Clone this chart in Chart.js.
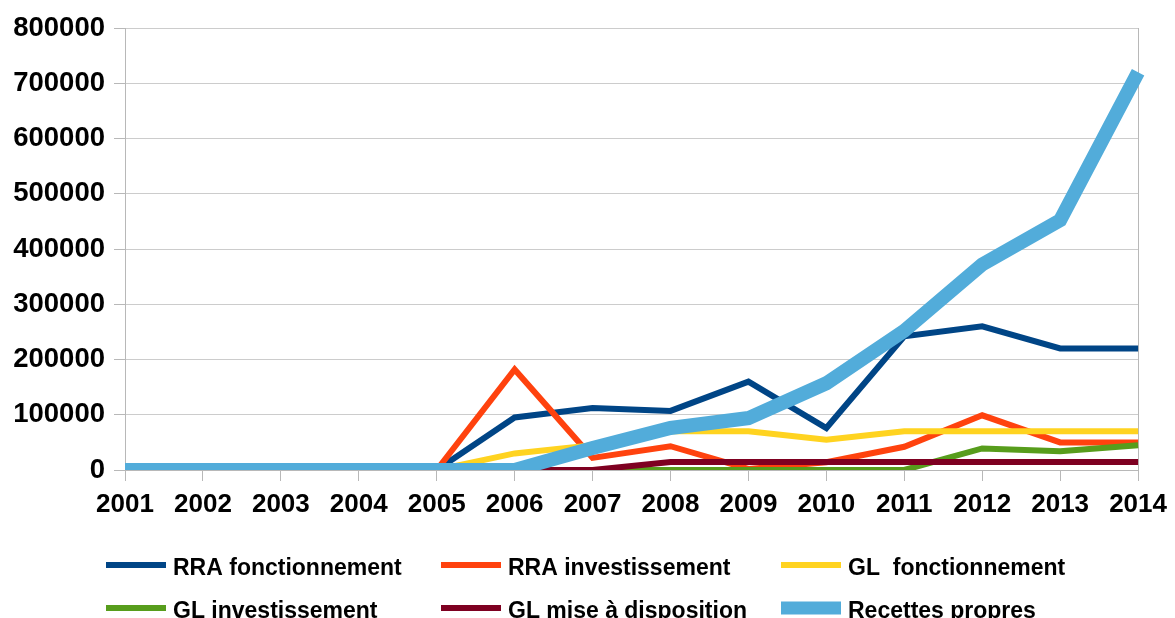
<!DOCTYPE html>
<html>
<head>
<meta charset="utf-8">
<script src="https://cdn.jsdelivr.net/npm/chart.js@4/dist/chart.umd.min.js"></script>
<style>
html,body{margin:0;padding:0;background:#fff;}
canvas{display:block;}
</style>
</head>
<body>
<canvas id="c" width="1175" height="618"></canvas>
<script>
const years = ['2001','2002','2003','2004','2005','2006','2007','2008','2009','2010','2011','2012','2013','2014'];
const seriesNames = ['RRA fonctionnement','RRA investissement','GL  fonctionnement','GL investissement','GL mise à disposition','Recettes propres'];
const rraFonctionnement = [0,0,0,0,0,95000,112000,107000,160000,76000,242000,260000,220000,220000];
const rraInvestissement = [0,0,0,0,0,182000,22000,43000,2000,14000,42000,99000,50000,50000];
const glFonctionnement = [0,0,0,0,0,30000,45000,70000,70000,55000,70000,70000,70000,70000];
const glInvestissement = [0,0,0,0,0,0,0,0,0,0,0,39000,34000,45000];
const glMiseADisposition = [0,0,0,0,0,0,0,14500,14500,14500,14500,14500,14500,14500];
const recettesPropres = [0,0,0,0,0,0,40000,76000,94000,157000,252000,372000,452000,720000];
const yTicks = [0,100000,200000,300000,400000,500000,600000,700000,800000];

const colors = ['#004586','#ff420e','#ffd320','#579d1c','#7e0021','#52acda'];
const widths = [6,6,6,6,6,14];
const values = [rraFonctionnement,rraInvestissement,glFonctionnement,glInvestissement,glMiseADisposition,recettesPropres];

const datasets = values.map((v,i)=>({
  label: seriesNames[i],
  data: v,
  borderColor: colors[i],
  backgroundColor: colors[i],
  borderWidth: widths[i],
  pointRadius: 0,
  pointHoverRadius: 0,
  tension: 0,
  fill: false,
  order: values.length - 1 - i
}));

const FONT = '"Liberation Sans", Arial, sans-serif';

const legendPlugin = {
  id: 'customLegend',
  afterDraw(chart){
    const ctx = chart.ctx;
    const colX = [106, 441, 781];
    const rowY = [565, 608];
    ctx.save();
    ctx.font = 'bold 23px ' + FONT;
    ctx.fillStyle = '#000';
    ctx.textBaseline = 'alphabetic';
    ctx.textAlign = 'left';
    chart.data.datasets.forEach((ds,i)=>{
      const col = i % 3, row = Math.floor(i/3);
      const x = colX[col], y = rowY[row];
      const h = ds.borderWidth > 8 ? 13 : 6;
      ctx.fillStyle = ds.borderColor;
      ctx.fillRect(x, y - h/2, 60, h);
      ctx.fillStyle = '#000';
      ctx.fillText(ds.label, x + 67, y + 10);
    });
    ctx.restore();
  }
};

new Chart(document.getElementById('c'), {
  type: 'line',
  data: { labels: years, datasets },
  options: {
    responsive: false,
    animation: false,
    events: [],
    layout: { padding: { top: 28, right: 32, left: 0, bottom: 0 }, autoPadding: false },
    plugins: { legend: { display: false }, tooltip: { enabled: false } },
    scales: {
      x: {
        type: 'category',
        offset: false,
        grid: {
          color: (c) => c.index === years.length - 1 ? '#b8b8b8' : 'rgba(0,0,0,0)',
          tickColor: '#b8b8b8',
          tickLength: 11,
          lineWidth: 1,
          drawOnChartArea: true
        },
        border: { display: true, color: '#b8b8b8' },
        ticks: {
          color: '#000',
          font: { family: FONT, size: 26, weight: 'bold' },
          padding: 8,
          maxRotation: 0,
          autoSkip: false
        },
        afterFit(s){ s.height = 148; }
      },
      y: {
        min: 0,
        max: 800000,
        afterBuildTicks(s){ s.ticks = yTicks.map(v=>({value:v})); },
        grid: { color: '#cccccc', tickColor: '#b8b8b8', tickLength: 11, lineWidth: 1 },
        border: { display: true, color: '#b8b8b8' },
        ticks: {
          color: '#000',
          font: { family: FONT, size: 27.5, weight: 'bold' },
          padding: 9,
          callback: (v) => String(v)
        },
        afterFit(s){ s.width = 125; }
      }
    }
  },
  plugins: [legendPlugin]
});
</script>
</body>
</html>
